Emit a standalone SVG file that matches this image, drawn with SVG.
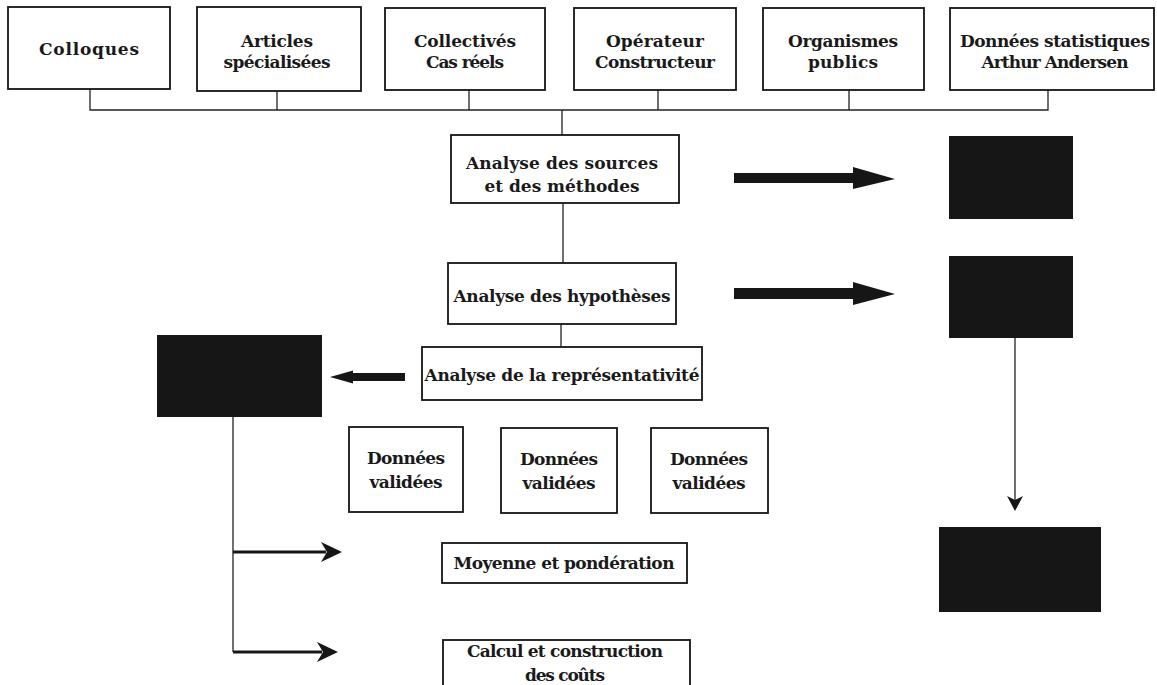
<svg xmlns="http://www.w3.org/2000/svg" width="1157" height="685" viewBox="0 0 1157 685">
<style>
.box{fill:#fff;stroke:#151515;stroke-width:1.8}
.blk{fill:#161616;stroke:none}
.t{font-family:"DejaVu Serif","Liberation Serif",serif;font-size:17px;font-weight:bold;fill:#1a1a1a;text-anchor:middle}
.ln{stroke:#222;stroke-width:1.3;fill:none}
.ar{fill:#161616;stroke:none}
</style>
<rect width="1157" height="685" fill="#fff"/>
<g id="connectors">
<path class="ln" d="M90 89V110H1048V90M277 91V110M469 90V110M658 90V110M849 90V110M562 110V135"/>
<path class="ln" d="M563 203V263M561 324V347"/>
<path class="ln" d="M233 417V652"/>
<path class="ar" d="M233 550.5H326V553.5H233Z"/>
<path class="ar" d="M342 552L321 542L327 552L321 562Z"/>
<path class="ar" d="M233 650.5H322V653.5H233Z"/>
<path class="ar" d="M338 652L317 642L323 652L317 662Z"/>
<path class="ar" d="M734 173H853V167L895 179L853 189V183H734Z"/>
<path class="ar" d="M734 288H853V282L895 294L853 305V299H734Z"/>
<path class="ar" d="M405 373H353V370.5L330 377L353 383.5V381H405Z"/>
<path class="ln" d="M1015 338V500" stroke-width="1.8"/>
<path class="ar" d="M1015 511L1007 496L1015 500L1023 496Z"/>
</g>
<g id="n-colloques"><rect class="box" x="8" y="7" width="162" height="82"/><text class="t" x="89" y="55" textLength="100">Colloques</text></g>
<g id="n-articles"><rect class="box" x="197" y="7" width="164" height="84"/><text class="t" x="277" y="47" textLength="72">Articles</text><text class="t" x="277" y="68" textLength="107">spécialisées</text></g>
<g id="n-collectives"><rect class="box" x="385" y="8" width="160" height="82"/><text class="t" x="465" y="47" textLength="102">Collectivés</text><text class="t" x="465" y="68" textLength="78">Cas réels</text></g>
<g id="n-operateur"><rect class="box" x="574" y="8" width="162" height="82"/><text class="t" x="655" y="47" textLength="98">Opérateur</text><text class="t" x="655" y="68" textLength="120">Constructeur</text></g>
<g id="n-organismes"><rect class="box" x="763" y="8" width="161" height="82"/><text class="t" x="843" y="47" textLength="110">Organismes</text><text class="t" x="843" y="68" textLength="70">publics</text></g>
<g id="n-donnees-stat"><rect class="box" x="950" y="8" width="204" height="82"/><text class="t" x="1055" y="47" textLength="190">Données statistiques</text><text class="t" x="1055" y="68" textLength="147">Arthur Andersen</text></g>
<g id="n-sources"><rect class="box" x="451" y="135" width="228" height="68"/><text class="t" x="562" y="169" textLength="192">Analyse des sources</text><text class="t" x="562" y="192" textLength="155">et des méthodes</text></g>
<g id="n-hypotheses"><rect class="box" x="448" y="263" width="228" height="61"/><text class="t" x="562" y="302" textLength="217">Analyse des hypothèses</text></g>
<g id="n-representativite"><rect class="box" x="422" y="347" width="280" height="53"/><text class="t" x="562" y="381" textLength="275">Analyse de la représentativité</text></g>
<g id="n-black1"><rect class="blk" x="949" y="136" width="124" height="83"/></g>
<g id="n-black2"><rect class="blk" x="949" y="256" width="124" height="82"/></g>
<g id="n-black3"><rect class="blk" x="939" y="527" width="162" height="85"/></g>
<g id="n-black-left"><rect class="blk" x="157" y="335" width="165" height="82"/></g>
<g id="n-valid1"><rect class="box" x="349" y="427" width="114" height="85"/><text class="t" x="406" y="464" textLength="78">Données</text><text class="t" x="406" y="488" textLength="73">validées</text></g>
<g id="n-valid2"><rect class="box" x="501" y="428" width="116" height="85"/><text class="t" x="559" y="465" textLength="78">Données</text><text class="t" x="559" y="489" textLength="73">validées</text></g>
<g id="n-valid3"><rect class="box" x="651" y="428" width="117" height="85"/><text class="t" x="709" y="465" textLength="78">Données</text><text class="t" x="709" y="489" textLength="73">validées</text></g>
<g id="n-moyenne"><rect class="box" x="442" y="543" width="245" height="40"/><text class="t" x="564" y="569" textLength="221">Moyenne et pondération</text></g>
<g id="n-calcul"><rect class="box" x="443" y="640" width="247" height="60"/><text class="t" x="565" y="657" textLength="196">Calcul et construction</text><text class="t" x="565" y="681" textLength="80">des coûts</text></g>
</svg>
